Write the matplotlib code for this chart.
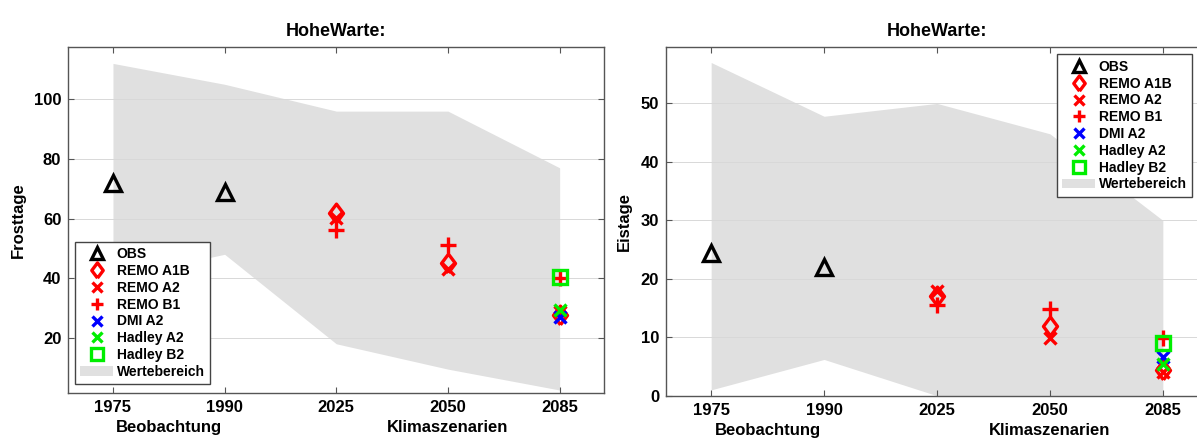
import numpy as np
import matplotlib.pyplot as plt
from matplotlib.patches import Patch
from matplotlib.lines import Line2D

plt.rcParams['font.family'] = ['Liberation Sans', 'DejaVu Sans']
plt.rcParams['font.weight'] = 'bold'

years = ["1975", "1990", "2025", "2050", "2085"]
pos = [1, 2, 3, 4, 5]

# Frosttage
frost_upper = [112, 105, 96, 96, 77]
frost_lower = [40, 48, 18, 9.5, 2.5]
frost_obs = [72, 69]
frost_remo_a1b = [62, 45.2, 27.6]
frost_remo_a2 = [60.3, 43, 28.5]
frost_remo_b1 = [56, 51, 40]
frost_dmi_a2 = [27]
frost_hadley_a2 = [29.4]
frost_hadley_b2 = [40.3]

# Eistage
eis_upper = [57, 47.8, 50, 44.8, 30]
eis_lower = [1, 6.2, 0, 0, 0]
eis_obs = [24.4, 22.1]
eis_remo_a1b = [17, 11.9, 4.4]
eis_remo_a2 = [17.9, 9.9, 4]
eis_remo_b1 = [15.6, 14.8, 9.8]
eis_dmi_a2 = [6.7]
eis_hadley_a2 = [5.4]
eis_hadley_b2 = [9.1]

GRAY = "#e0e0e0"
GREEN = "#00ee00"
mew = 2.4
# matlab-like diamond (wider than matplotlib's thin 'd')
DIAMOND = [(0, -1), (0.75, 0), (0, 1), (-0.75, 0), (0, -1)]

fig = plt.figure(figsize=(11.97, 4.38), dpi=100)
ax1 = fig.add_axes([68.3 / 1197, 45 / 438, 536 / 1197, 346 / 438])
ax2 = fig.add_axes([666 / 1197, 42.3 / 438, 542 / 1197, 349 / 438])


def draw(ax, upper, lower, obs, a1b, a2, b1, dmi, ha2, hb2, ylim, yticks, ylabel):
    ax.fill_between(pos, lower, upper, color=GRAY, lw=0, zorder=1)
    for y in yticks:
        ax.axhline(y, color="#d8d8d8", lw=0.7, zorder=1.5)
    ax.plot(pos[:2], obs, ls="none", marker="^", ms=11, mfc="none", mec="black", mew=mew, zorder=3)
    ax.plot(pos[2:], a1b, ls="none", marker=DIAMOND, ms=13.5, mfc="none", mec="red", mew=mew, zorder=3)
    ax.plot(pos[2:], a2, ls="none", marker="x", ms=8, mec="red", mew=mew, zorder=3)
    ax.plot(pos[2:], b1, ls="none", marker="+", ms=11, mec="red", mew=mew, zorder=3)
    ax.plot(pos[4:], dmi, ls="none", marker="x", ms=8, mec="blue", mew=mew, zorder=3)
    ax.plot(pos[4:], ha2, ls="none", marker="x", ms=8, mec=GREEN, mew=mew, zorder=3)
    ax.plot(pos[4:], hb2, ls="none", marker="s", ms=10, mfc="none", mec=GREEN, mew=mew, zorder=3)

    ax.set_xlim(0.6, 5.4)
    ax.set_ylim(*ylim)
    ax.set_xticks(pos)
    ax.set_xticklabels(years)
    ax.set_yticks(yticks)
    ax.tick_params(direction="in", top=True, right=True, length=4, width=0.8,
                   color="#555555", labelsize=12, pad=5)
    for lab in ax.get_xticklabels() + ax.get_yticklabels():
        lab.set_fontweight("bold")
    for s in ax.spines.values():
        s.set_color("#555555")
        s.set_linewidth(1.0)
    ax.set_title("HoheWarte:", fontsize=13, fontweight="bold", pad=8)
    ax.set_ylabel(ylabel, fontsize=12, fontweight="bold", labelpad=6)
    tr = ax.get_xaxis_transform()
    ax.text(1.5, -0.101, "Beobachtung", transform=tr, ha="center", va="center",
            fontsize=12, fontweight="bold")
    ax.text(4.0, -0.101, "Klimaszenarien", transform=tr, ha="center", va="center",
            fontsize=12, fontweight="bold")


draw(ax1, frost_upper, frost_lower, frost_obs, frost_remo_a1b, frost_remo_a2,
     frost_remo_b1, frost_dmi_a2, frost_hadley_a2, frost_hadley_b2,
     (1.5, 117.5), [20, 40, 60, 80, 100], "Frosttage")
draw(ax2, eis_upper, eis_lower, eis_obs, eis_remo_a1b, eis_remo_a2,
     eis_remo_b1, eis_dmi_a2, eis_hadley_a2, eis_hadley_b2,
     (0, 59.7), [0, 10, 20, 30, 40, 50], "Eistage")

handles = [
    Line2D([], [], ls="none", marker="^", ms=9, mfc="none", mec="black", mew=mew),
    Line2D([], [], ls="none", marker=DIAMOND, ms=11, mfc="none", mec="red", mew=mew),
    Line2D([], [], ls="none", marker="x", ms=7, mec="red", mew=mew),
    Line2D([], [], ls="none", marker="+", ms=9, mec="red", mew=mew),
    Line2D([], [], ls="none", marker="x", ms=7, mec="blue", mew=mew),
    Line2D([], [], ls="none", marker="x", ms=7, mec=GREEN, mew=mew),
    Line2D([], [], ls="none", marker="s", ms=8, mfc="none", mec=GREEN, mew=mew),
    Patch(facecolor=GRAY, edgecolor="none"),
]
labels = ["OBS", "REMO A1B", "REMO A2", "REMO B1", "DMI A2", "Hadley A2",
          "Hadley B2", "Wertebereich"]

for ax, loc, anchor in [(ax1, "lower left", (0.012, 0.025)),
                        (ax2, "upper left", (0.721, 0.978))]:
    leg = ax.legend(handles, labels, loc=loc, bbox_to_anchor=anchor,
                    borderaxespad=0, fancybox=False, framealpha=1,
                    prop={"weight": "bold", "size": 10}, labelspacing=0.2,
                    handlelength=2.36, handletextpad=0.26, borderpad=0.4)
    leg.get_frame().set_edgecolor("#444444")
    leg.get_frame().set_linewidth(1.0)
    leg.set_zorder(5)

fig.savefig("out.png", dpi=100)
